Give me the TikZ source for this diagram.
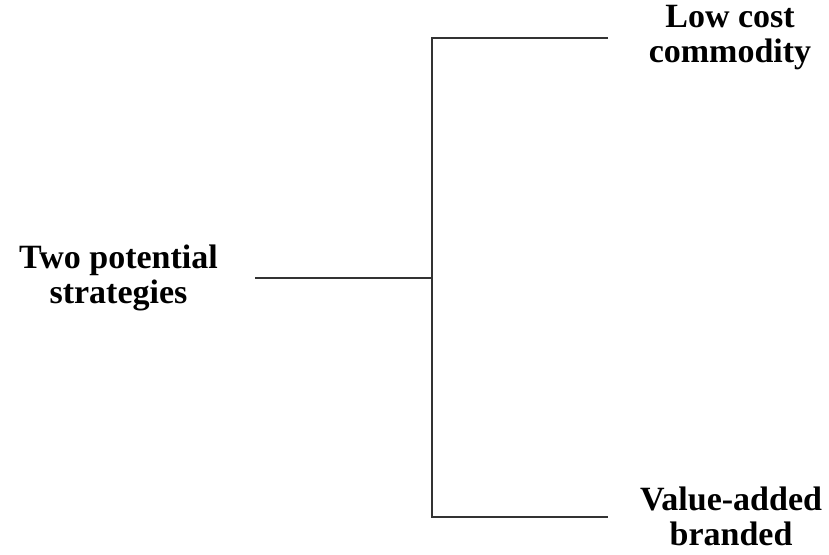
\documentclass[tikz,border=0pt]{standalone}
\usepackage{fontspec}
\setmainfont{Liberation Serif}
\begin{document}
\begin{tikzpicture}[x=1pt,y=-1pt,
  label/.style={font=\fontsize{34}{35}\selectfont\bfseries, align=center, inner sep=0pt, anchor=base},
  link/.style={draw=black!80, line width=1.3pt}]
\useasboundingbox (0,0) rectangle (829,554);
\node[label] (root) at (118.5,303) {Two potential\\strategies};
\node[label] (low) at (730,62) {Low cost\\commodity};
\node[label] (val) at (731,545) {Value-added\\branded};
\coordinate (s) at (255,278);
\coordinate (j) at (432,278);
\coordinate (jt) at (432,38);
\coordinate (jb) at (432,517);
\coordinate (et) at (608,38);
\coordinate (eb) at (608,517);
\draw[link] (s) -- (j);
\draw[link] (et) -- (jt) -- (jb) -- (eb);
\end{tikzpicture}
\end{document}
